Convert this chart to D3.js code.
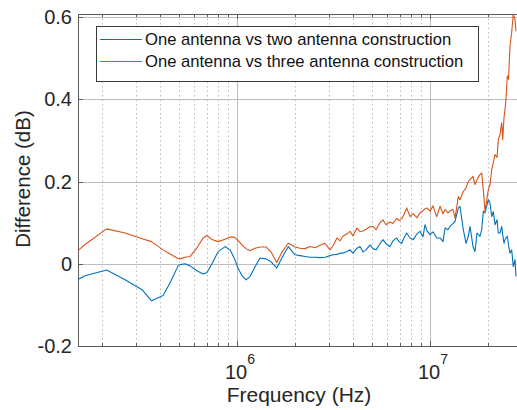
<!DOCTYPE html>
<html>
<head>
<meta charset="utf-8">
<script src="https://cdn.jsdelivr.net/npm/d3@7"></script>
<style>
  html, body { margin: 0; padding: 0; background: #fff; }
  svg { display: block; font-family: "Liberation Sans", Arial, sans-serif; }
</style>
</head>
<body>
<svg id="chart" width="517" height="410"></svg>
<script>
// Measurement frequencies (Hz)
const frequency = [
  1.50e5, 1.63e5, 2.11e5, 2.63e5, 3.22e5, 3.61e5, 4.14e5, 4.50e5, 4.95e5, 5.07e5,
  5.38e5, 5.71e5, 6.20e5, 6.67e5, 6.99e5, 7.42e5, 7.97e5, 8.67e5, 9.20e5, 9.65e5,
  1.012e6, 1.061e6, 1.113e6, 1.168e6, 1.240e6, 1.316e6, 1.413e6, 1.501e6, 1.606e6, 1.711e6,
  1.845e6, 1.998e6, 2.121e6, 2.251e6, 2.389e6, 2.536e6, 2.692e6, 2.858e6, 3.033e6, 3.144e6,
  3.297e6, 3.418e6, 3.542e6, 3.715e6, 3.851e6, 3.991e6, 4.186e6, 4.339e6, 4.497e6, 4.661e6,
  4.888e6, 5.067e6, 5.251e6, 5.507e6, 5.707e6, 5.916e6, 6.204e6, 6.430e6, 6.721e6, 6.908e6,
  7.134e6, 7.332e6, 7.572e6, 7.877e6, 8.193e6, 8.563e6, 8.874e6, 9.199e6, 9.421e6, 9.649e6,
  1.000e7, 1.036e7, 1.083e7, 1.127e7, 1.168e7, 1.196e7, 1.240e7, 1.269e7, 1.316e7, 1.347e7,
  1.402e7, 1.430e7, 1.488e7, 1.537e7, 1.579e7, 1.612e7, 1.671e7, 1.711e7, 1.752e7, 1.815e7,
  1.853e7, 1.889e7, 1.928e7, 2.005e7, 2.046e7, 2.088e7, 2.128e7, 2.172e7, 2.225e7, 2.259e7,
  2.306e7, 2.353e7, 2.381e7, 2.418e7, 2.447e7, 2.476e7, 2.515e7, 2.551e7, 2.597e7, 2.650e7,
  2.701e7, 2.757e7, 2.790e7
];

// Difference (dB): one antenna vs two antenna construction
const twoAntenna = [
  -0.038, -0.029, -0.015, -0.039, -0.063, -0.090, -0.077, -0.046, -0.005, -0.002,
   0.000, -0.005, -0.017, -0.025, -0.021,  0.000,  0.029,  0.042,  0.034,  0.015,
  -0.010, -0.029, -0.039, -0.031, -0.007,  0.014,  0.012,  0.005, -0.010,  0.015,
   0.042,  0.022,  0.020,  0.018,  0.016,  0.016,  0.015,  0.016,  0.020,  0.022,
   0.023,  0.026,  0.026,  0.030,  0.034,  0.026,  0.038,  0.042,  0.029,  0.034,
   0.046,  0.037,  0.034,  0.049,  0.059,  0.049,  0.042,  0.056,  0.063,  0.054,
   0.050,  0.063,  0.075,  0.063,  0.059,  0.073,  0.079,  0.066,  0.095,  0.080,
   0.071,  0.078,  0.063,  0.063,  0.054,  0.087,  0.083,  0.091,  0.098,  0.103,
   0.136,  0.140,  0.083,  0.050,  0.067,  0.091,  0.042,  0.030,  0.075,  0.067,
   0.083,  0.128,  0.124,  0.156,  0.148,  0.115,  0.127,  0.095,  0.107,  0.075,
   0.075,  0.091,  0.071,  0.050,  0.059,  0.063,  0.067,  0.046,  0.026,  0.034,
  -0.007,  0.010, -0.031
];

// Difference (dB): one antenna vs three antenna construction
const threeAntenna = [
   0.032,  0.047,  0.085,  0.075,  0.061,  0.054,  0.034,  0.024,  0.013,  0.012,
   0.016,  0.018,  0.039,  0.063,  0.069,  0.059,  0.054,  0.060,  0.065,  0.065,
   0.057,  0.046,  0.037,  0.032,  0.038,  0.041,  0.041,  0.029,  0.003,  0.029,
   0.050,  0.041,  0.038,  0.037,  0.042,  0.039,  0.045,  0.050,  0.034,  0.044,
   0.063,  0.056,  0.067,  0.073,  0.079,  0.068,  0.087,  0.078,  0.080,  0.084,
   0.090,  0.091,  0.083,  0.100,  0.107,  0.095,  0.102,  0.098,  0.111,  0.105,
   0.110,  0.120,  0.136,  0.115,  0.122,  0.112,  0.124,  0.129,  0.134,  0.136,
   0.128,  0.141,  0.115,  0.140,  0.122,  0.132,  0.124,  0.129,  0.132,  0.111,
   0.164,  0.156,  0.176,  0.185,  0.200,  0.205,  0.213,  0.193,  0.205,  0.217,
   0.221,  0.180,  0.128,  0.180,  0.193,  0.229,  0.246,  0.266,  0.259,  0.302,
   0.315,  0.343,  0.302,  0.356,  0.376,  0.400,  0.457,  0.449,  0.530,  0.563,
   0.607,  0.595,  0.566
];

const seriesNames = [
  "One antenna vs two antenna construction",
  "One antenna vs three antenna construction"
];
const seriesColors = ["#0072BD", "#D95319"];

const yTicks = [-0.2, 0, 0.2, 0.4, 0.6];
const yTickLabels = ["-0.2", "0", "0.2", "0.4", "0.6"];
const xMajorTicks = [1e6, 1e7];
const xMinorTicks = [2e5, 3e5, 4e5, 5e5, 6e5, 7e5, 8e5, 9e5,
                     2e6, 3e6, 4e6, 5e6, 6e6, 7e6, 8e6, 9e6, 2e7];

const svg = d3.select("#chart");
const plot = { left: 78, right: 516, top: 14, bottom: 346 };

const x = d3.scaleLog().domain([1.5e5, 2.79e7]).range([plot.left, plot.right]);
const y = d3.scaleLinear().domain([-0.2, 0.608]).range([plot.bottom, plot.top]);

const textColor = "#262626";
const gridColor = "#bdbdbd";
const axisColor = "#5a5a5a";

// minor (dotted) vertical grid
svg.append("g").selectAll("line").data(xMinorTicks).join("line")
  .attr("x1", d => Math.round(x(d)) + 0.5).attr("x2", d => Math.round(x(d)) + 0.5)
  .attr("y1", plot.top).attr("y2", plot.bottom)
  .attr("stroke", "#bbbbbb").attr("stroke-width", 1)
  .attr("stroke-dasharray", "1.5,3");

// major grid
svg.append("g").selectAll("line").data(xMajorTicks).join("line")
  .attr("x1", d => Math.round(x(d)) + 0.5).attr("x2", d => Math.round(x(d)) + 0.5)
  .attr("y1", plot.top).attr("y2", plot.bottom)
  .attr("stroke", gridColor).attr("stroke-width", 1);
svg.append("g").selectAll("line").data(yTicks).join("line")
  .attr("x1", plot.left).attr("x2", plot.right + 2)
  .attr("y1", d => Math.round(y(d)) + 0.5).attr("y2", d => Math.round(y(d)) + 0.5)
  .attr("stroke", gridColor).attr("stroke-width", 1);

// y axis labels via d3 axis generator
const gy = svg.append("g").attr("transform", `translate(${plot.left},0)`)
  .call(d3.axisLeft(y).tickValues(yTicks).tickSize(0).tickPadding(6)
    .tickFormat((d, i) => yTickLabels[i]));
gy.select(".domain").remove();
gy.selectAll("text").attr("font-size", 20).attr("fill", textColor)
  .attr("font-family", "Liberation Sans, Arial, sans-serif");

// x tick labels as powers of ten
const xl = svg.append("g");
xMajorTicks.forEach(v => {
  const exp = Math.round(Math.log10(v));
  const t = xl.append("text")
    .attr("x", x(v) + 3).attr("y", 379)
    .attr("text-anchor", "middle")
    .attr("fill", textColor).attr("font-size", 20);
  t.append("tspan").text("10");
  t.append("tspan").attr("dy", -15).attr("font-size", 14).text(exp);
});

// tick marks (inward)
const tickG = svg.append("g").attr("stroke", axisColor).attr("stroke-width", 1);
xMinorTicks.forEach(v => {
  const px = Math.round(x(v)) + 0.5;
  tickG.append("line").attr("x1", px).attr("x2", px).attr("y1", plot.bottom).attr("y2", plot.bottom - 3);
  tickG.append("line").attr("x1", px).attr("x2", px).attr("y1", plot.top).attr("y2", plot.top + 3);
});
xMajorTicks.forEach(v => {
  const px = Math.round(x(v)) + 0.5;
  tickG.append("line").attr("x1", px).attr("x2", px).attr("y1", plot.bottom).attr("y2", plot.bottom - 5);
  tickG.append("line").attr("x1", px).attr("x2", px).attr("y1", plot.top).attr("y2", plot.top + 5);
});
yTicks.forEach(v => {
  const py = Math.round(y(v)) + 0.5;
  tickG.append("line").attr("x1", plot.left).attr("x2", plot.left + 5).attr("y1", py).attr("y2", py);
});

// axes box (right edge falls just past the canvas)
svg.append("rect")
  .attr("x", plot.left + 0.5).attr("y", plot.top + 0.5)
  .attr("width", plot.right - plot.left + 3).attr("height", plot.bottom - plot.top)
  .attr("fill", "none").attr("stroke", axisColor).attr("stroke-width", 1);

// data lines
svg.append("clipPath").attr("id", "clip").append("rect")
  .attr("x", plot.left).attr("y", plot.top - 1)
  .attr("width", plot.right - plot.left + 2).attr("height", plot.bottom - plot.top + 2);

const line = d3.line()
  .x((d, i) => x(frequency[i]))
  .y(d => y(d));

[twoAntenna, threeAntenna].forEach((vals, k) => {
  svg.append("path")
    .datum(vals)
    .attr("clip-path", "url(#clip)")
    .attr("fill", "none")
    .attr("stroke", seriesColors[k])
    .attr("stroke-width", 1.1)
    .attr("stroke-linejoin", "round")
    .attr("d", line);
});

// legend
const legend = svg.append("g");
legend.append("rect")
  .attr("x", 96.5).attr("y", 26.5).attr("width", 382).attr("height", 55)
  .attr("fill", "#fff").attr("stroke", "#3a3a3a").attr("stroke-width", 1);
seriesNames.forEach((name, k) => {
  const cy = 39.5 + k * 22;
  legend.append("line")
    .attr("x1", 100).attr("x2", 142).attr("y1", cy).attr("y2", cy)
    .attr("stroke", seriesColors[k]).attr("stroke-width", 1.1);
  legend.append("text")
    .attr("x", 145).attr("y", cy).attr("dy", "0.35em")
    .attr("font-size", 16.6).attr("fill", "#111").text(name);
});

// axis titles
svg.append("text")
  .attr("x", 299).attr("y", 402)
  .attr("text-anchor", "middle").attr("font-size", 21).attr("fill", textColor)
  .text("Frequency (Hz)");
svg.append("text")
  .attr("transform", "translate(30,179) rotate(-90)")
  .attr("text-anchor", "middle").attr("font-size", 20.5).attr("fill", textColor)
  .text("Difference (dB)");
</script>
</body>
</html>
